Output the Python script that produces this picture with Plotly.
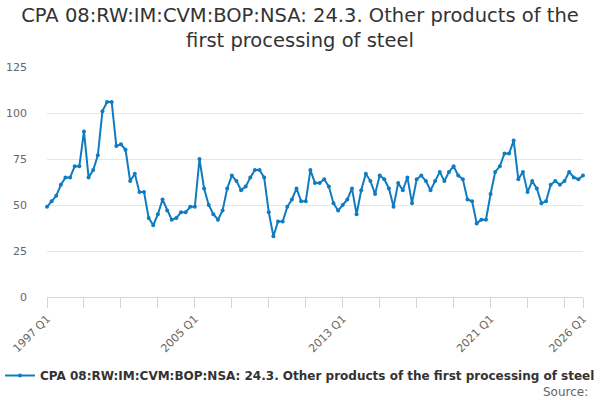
import plotly.graph_objects as go

# quarterly values, 1997 Q1 .. 2026 Q1
values = [
    49, 52, 55, 61, 65, 65, 71, 71, 90, 65, 69, 77, 101, 106, 106, 82,
    83, 80, 63, 67, 57, 57, 43, 39, 45, 53, 47, 42, 43, 46, 46, 49,
    49, 75, 59, 50, 45, 42, 47, 59, 66, 63, 58, 60, 65, 69, 69, 65,
    46, 33, 41, 41, 49, 53, 59, 52, 52, 69, 62, 62, 64, 60, 51, 47,
    50, 53, 59, 45, 58, 67, 63, 56, 66, 64, 59, 49, 62, 58, 65, 51,
    64, 66, 63, 58, 63, 68, 63, 68, 71, 66, 64, 53, 52, 40, 42, 42,
    56, 68, 71, 78, 78, 85, 64, 68, 57, 63, 59, 51, 52, 61, 63, 61,
    63, 68, 65, 64, 66,
]
quarters = ["%d Q%d" % (1997 + i // 4, i % 4 + 1) for i in range(len(values))]
shown_labels = ["1997 Q1", "2005 Q1", "2013 Q1", "2021 Q1", "2026 Q1"]
y_ticks = [0, 25, 50, 75, 100, 125]

series_name = "CPA 08:RW:IM:CVM:BOP:NSA: 24.3. Other products of the first processing of steel"
blue = "#0f7cc1"

# tick marks every two years plus the last quarter
tick_pos = list(range(0, len(quarters), 8))
if tick_pos[-1] != len(quarters) - 1:
    tick_pos.append(len(quarters) - 1)
tick_vals = [quarters[i] for i in tick_pos]
tick_text = [q if q in shown_labels else "" for q in tick_vals]

fig = go.Figure()
fig.add_trace(go.Scatter(
    x=quarters, y=values, name="<b>" + series_name + "</b>",
    mode="lines+markers",
    line=dict(color=blue, width=2),
    marker=dict(color=blue, size=4),
    cliponaxis=False,
))

fig.update_layout(
    width=600, height=400,
    paper_bgcolor="white", plot_bgcolor="white",
    font=dict(family="DejaVu Sans", color="#666666"),
    margin=dict(l=47, r=17, t=67, b=103),
    title=dict(
        text="CPA 08:RW:IM:CVM:BOP:NSA: 24.3. Other products of the<br>first processing of steel",
        x=0.5, xanchor="center", y=0.945, yanchor="top",
        font=dict(size=19.5, color="#333333"),
    ),
    xaxis=dict(
        type="category", range=[0, len(quarters) - 1], automargin=False,
        tickmode="array", tickvals=tick_vals, ticktext=tick_text,
        tickangle=-45, tickfont=dict(size=11, color="#666666"),
        ticks="outside", ticklen=10, tickcolor="#ccd6eb",
        showline=True, linecolor="#ccd6eb", linewidth=1,
        showgrid=False,
    ),
    yaxis=dict(
        range=[0, 125], tickvals=y_ticks, automargin=False,
        tickfont=dict(size=11, color="#666666"),
        gridcolor="#e6e6e6", zeroline=False, showline=False,
        ticklabelstandoff=19,
    ),
    showlegend=True,
    legend=dict(
        orientation="h", xref="container", yref="container",
        x=0, xanchor="left", y=0.0975, yanchor="top",
        font=dict(size=12, color="#333333", family="DejaVu Sans"),
    ),
    annotations=[dict(
        text="Source:", xref="paper", yref="paper", x=1.013, y=-0.374,
        xanchor="right", yanchor="top", showarrow=False,
        font=dict(size=12, color="#666666"),
    )],
)

# drop the page's default body margin so the figure sits at the window corner
fig.write_html("out.html", config={"displayModeBar": False},
               post_script="document.body.style.margin = '0';")
